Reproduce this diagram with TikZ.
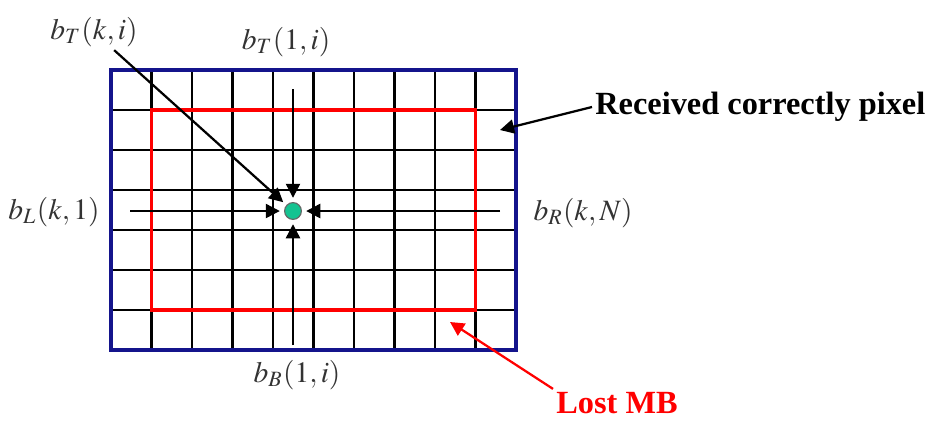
\documentclass[tikz,border=0pt]{standalone}
\usepackage{mathptmx}
\usepackage[no-math]{fontspec}
\setmainfont{Liberation Serif}
\usepackage{tikz}
\usetikzlibrary{arrows.meta, positioning}
\definecolor{frameblue}{RGB}{20,20,140}
\definecolor{dotgreen}{RGB}{20,195,145}

\begin{document}
\begin{tikzpicture}[x=0.0125cm,y=-0.0125cm]
\tikzstyle{gridline} = [line width=0.8pt, black]
\tikzstyle{pointer} = [line width=0.8pt,->,>={Triangle[length=5pt,width=5pt]}, shorten >=1.5pt]
\tikzstyle{lbl} = [inner sep=1pt, text=black!80, font=\fontsize{10.5}{13}\selectfont]
\tikzstyle{note} = [inner sep=1pt, font=\fontsize{11.5}{14}\selectfont\bfseries]
\useasboundingbox (0,0) rectangle (929,420);
% pixel grid
\foreach \i in {1,...,9}
  \draw [gridline] ({111+40.5*\i},70) -- ({111+40.5*\i},350);
\foreach \j in {1,...,6}
  \draw [gridline] (111,{70+40*\j}) -- (516,{70+40*\j});
\draw [red, line width=1.3pt] (151.5,110) rectangle (475.5,310);
\draw [frameblue, line width=1.4pt] (111,70) rectangle (516,350);
% lost pixel and its neighbours
\node (px) [circle, fill=dotgreen, draw=black!60, line width=0.4pt, inner sep=0pt, minimum size=0.21cm] at (293,211) {};
\coordinate (topend) at (293,89);
\coordinate (botend) at (293,345);
\coordinate (leftend) at (130,211);
\coordinate (rightend) at (500,211);
\draw [pointer] (topend) -- (px);
\draw [pointer] (botend) -- (px);
\draw [pointer] (leftend) -- (px);
\draw [pointer] (rightend) -- (px);
\node (bTk) [lbl] at (94,32) {$b_T(k,i)$};
\node (bT1) [lbl] at (286,42) {$b_T(1,i)$};
\node (bL) [lbl] at (54,212) {$b_L(k,1)$};
\node (bR) [lbl] at (583,213) {$b_R(k,N)$};
\node (bB) [lbl] at (297,375) {$b_B(1,i)$};
\draw [pointer] (bTk) -- (px);
% notes
\node (recv) [note, anchor=west] at (592,107) {Received correctly pixel};
\coordinate (recvtip) at (500,130);
\draw [pointer, shorten >=0pt] (recv.west) -- (recvtip);
\node (lost) [note, text=red, anchor=west] at (553,403) {Lost MB};
\coordinate (losttip) at (450,322);
\draw [pointer, red, shorten >=0pt] (lost.north west) -- (losttip);
\end{tikzpicture}
\end{document}
